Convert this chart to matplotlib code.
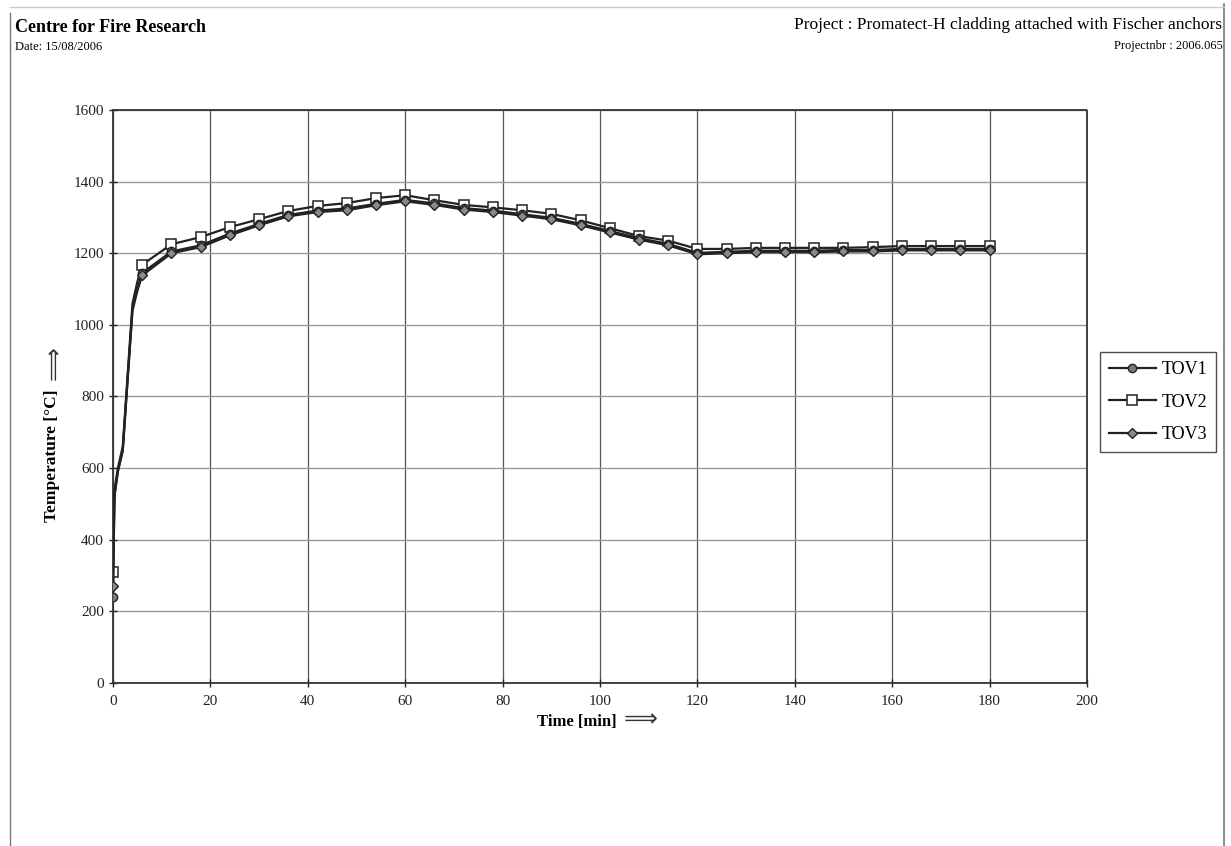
import matplotlib
matplotlib.use('Agg')
import matplotlib.pyplot as plt
from matplotlib.lines import Line2D

# font: Times-like serif, DejaVu as fallback for the long arrow
plt.rcParams['font.family'] = ['Liberation Serif', 'DejaVu Sans']

time = [0, 0.3, 1, 2, 3, 4, 5, 6, 12, 18, 24, 30, 36, 42, 48, 54, 60, 66, 72, 78,
        84, 90, 96, 102, 108, 114, 120, 126, 132, 138, 144, 150, 156, 162, 168, 174, 180]

tov1 = [240, 520, 590, 650, 850, 1045, 1100, 1145, 1205, 1222, 1255, 1282, 1307, 1319, 1325,
        1338, 1349, 1339, 1326, 1319, 1309, 1299, 1282, 1262, 1242, 1226, 1201, 1204, 1207,
        1207, 1207, 1209, 1209, 1212, 1212, 1212, 1212]
tov2 = [310, 540, 600, 660, 860, 1060, 1120, 1168, 1225, 1245, 1273, 1295, 1318, 1332, 1340,
        1354, 1362, 1348, 1335, 1328, 1320, 1310, 1292, 1270, 1248, 1235, 1212, 1212, 1215,
        1215, 1215, 1215, 1217, 1220, 1220, 1220, 1220]
tov3 = [270, 525, 592, 648, 845, 1040, 1095, 1138, 1200, 1217, 1250, 1278, 1303, 1315, 1320,
        1334, 1345, 1335, 1322, 1315, 1305, 1295, 1278, 1258, 1238, 1222, 1197, 1200, 1203,
        1203, 1203, 1205, 1205, 1208, 1208, 1208, 1208]

# markers only on the 6-minute readings
marks = [i for i, t in enumerate(time) if t % 6 == 0]

W, H = 1231, 846
fig = plt.figure(figsize=(W / 100, H / 100), dpi=100)
ax = fig.add_axes([0.0918, 0.1927, 0.7912, 0.6773])

ax.plot(time, tov1, color='#222222', lw=1.6, marker='o', ms=6, mfc='#7a7a7a', mec='#222222',
        mew=1, markevery=marks, label='TOV1', zorder=4)
ax.plot(time, tov2, color='#222222', lw=1.6, marker='s', ms=7.5, mfc='white', mec='#222222',
        mew=1.1, markevery=marks, label='TOV2', zorder=3)
ax.plot(time, tov3, color='#222222', lw=1.6, marker='D', ms=5, mfc='#8a8a8a', mec='#222222',
        mew=1, markevery=marks, label='TOV3', zorder=5)

ax.set_xlim(0, 200)
ax.set_ylim(0, 1600)
ax.set_xticks(range(0, 201, 20))
ax.set_yticks(range(0, 1601, 200))
ax.xaxis.grid(True, color='#555555', lw=0.9)
ax.yaxis.grid(True, color='#9a9a9a', lw=1.0)
ax.set_axisbelow(True)
ax.tick_params(direction='inout', length=6, width=1, labelsize=11, colors='#222222')
ax.tick_params(axis='x', pad=6)

for s in ax.spines.values():
    s.set_linestyle((0, (1, 1)))
    s.set_color('#333333')
    s.set_linewidth(1.3)

# axis titles with the long double arrow of the original
fig.text(617 / W, 1 - 722 / H, 'Time [min]', fontsize=12, fontweight='bold',
         ha='right', va='center')
fig.text(624 / W, 1 - 719 / H, '\u27f9', fontsize=17, family='DejaVu Sans',
         ha='left', va='center', color='#333333')
fig.text(52 / W, 1 - 522 / H, 'Temperature [\u00b0C]', fontsize=12.5, fontweight='bold',
         rotation=90, ha='center', va='bottom')
fig.text(54 / W, 1 - 380 / H, '\u27f9', fontsize=17, family='DejaVu Sans', rotation=90,
         ha='center', va='bottom', color='#333333')

leg = ax.legend(loc='center left', bbox_to_anchor=(1.004, 0.49), fontsize=13, frameon=True,
                fancybox=False, edgecolor='#222222', handlelength=2.6, labelspacing=0.85,
                borderpad=0.5, handletextpad=0.3)
leg.get_frame().set_linewidth(1)

# header texts
fig.text(0.012, 0.968, 'Centre for Fire Research', fontsize=13, fontweight='bold', va='center')
fig.text(0.012, 0.945, 'Date: 15/08/2006', fontsize=9, va='center')
fig.text(0.993, 0.970, 'Project : Promatect-H cladding attached with Fischer anchors',
         fontsize=12.5, ha='right', va='center')
fig.text(0.993, 0.946, 'Projectnbr : 2006.065', fontsize=9, ha='right', va='center')

# page frame lines from the scan
fig.add_artist(Line2D([0.0085, 0.0085], [0.0, 0.985], color='#777777', lw=1))
fig.add_artist(Line2D([0.9945, 0.9945], [0.0, 0.995], color='#777777', lw=1.2))
fig.add_artist(Line2D([0.0085, 0.9945], [0.992, 0.992], color='#cccccc', lw=1))

fig.savefig('out.png', dpi=100)
